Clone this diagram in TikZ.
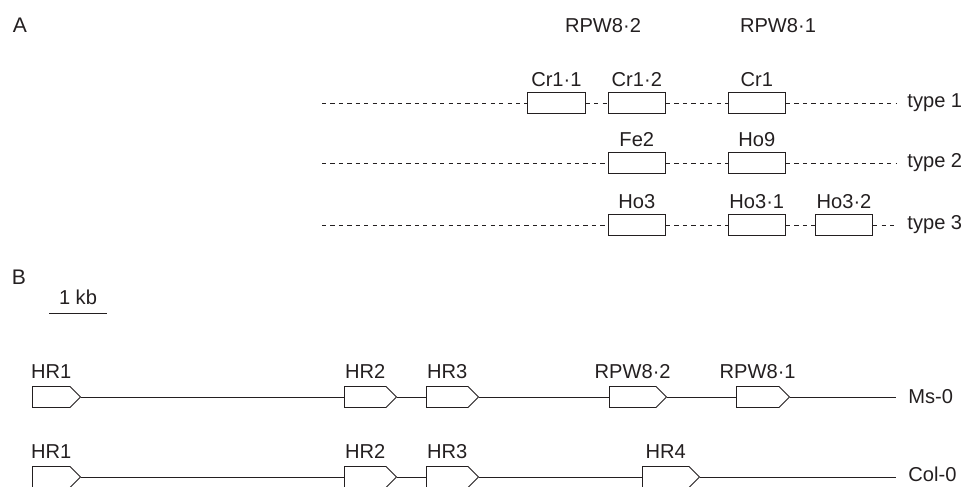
\documentclass[tikz,border=0pt]{standalone}
\usepackage{fontspec}
\setmainfont{Liberation Sans}
\usetikzlibrary{shapes.symbols}
\definecolor{ink}{RGB}{35,31,32}
\tikzset{
    gene/.style={draw, fill=white, minimum width=1.44cm, minimum height=0.515cm, inner sep=0pt,
        label={[label distance=0pt]above:#1}},
    orf/.style={draw, fill=white, shape=signal, signal to=east, minimum height=0.525cm,
        inner sep=0pt, anchor=west, label={[label distance=1.5pt]above:#1}},
    tag/.style={anchor=west, inner sep=0pt},
}
\begin{document}
\begin{tikzpicture}[line width=0.6pt, color=ink, font=\fontsize{14.3}{16}\selectfont]
        \useasboundingbox (0,0) rectangle (24.075,12.15);
        \node (pa) at (0.5,11.525) {\fontsize{15}{17}\selectfont A};
        \node (ra) at (15.075,11.5) {RPW8·2};
        \node (rb) at (19.45,11.5) {RPW8·1};
        % type 1
        \coordinate (t1s) at (8.05,9.575);
        \coordinate (t1e) at (22.425,9.575);
        \node[gene=Cr1·1] (cra) at (13.91,9.575) {};
        \node[gene=Cr1·2] (crb) at (15.92,9.575) {};
        \node[gene=Cr1] (crc) at (18.92,9.575) {};
        \draw[dashed] (t1s) -- (cra) (cra) -- (crb) (crb) -- (crc) (crc) -- (t1e);
        \node[tag] (ta) at (22.675,9.575) {type 1};
        % type 2
        \coordinate (t2s) at (8.05,8.075);
        \coordinate (t2e) at (22.425,8.075);
        \node[gene=Fe2] (fe) at (15.92,8.075) {};
        \node[gene=Ho9] (hn) at (18.92,8.075) {};
        \draw[dashed] (t2s) -- (fe) (fe) -- (hn) (hn) -- (t2e);
        \node[tag] (tb) at (22.675,8.075) {type 2};
        % type 3
        \coordinate (t3s) at (8.05,6.525);
        \coordinate (t3e) at (22.425,6.525);
        \node[gene=Ho3] (hoa) at (15.92,6.525) {};
        \node[gene=Ho3·1] (hob) at (18.92,6.525) {};
        \node[gene=Ho3·2] (hoc) at (21.10,6.525) {};
        \draw[dashed] (t3s) -- (hoa) (hoa) -- (hob) (hob) -- (hoc) (hoc) -- (t3e);
        \node[tag] (tc) at (22.675,6.525) {type 3};

        \node (pb) at (0.475,5.225) {\fontsize{15}{17}\selectfont B};
        % 标尺
        \coordinate (kba) at (1.225,4.325);
        \coordinate (kbb) at (2.675,4.325);
        \draw (kba) -- node[above=2.5pt] (kb) {1 kb} (kbb);
        % Ms-0
        \node[orf=HR1, minimum width=1.2cm] (ma) at (0.8,2.225) {};
        \node[orf=HR2, minimum width=1.3cm] (mb) at (8.6,2.225) {};
        \node[orf=HR3, minimum width=1.3cm] (mc) at (10.65,2.225) {};
        \node[orf=RPW8·2, minimum width=1.425cm] (md) at (15.225,2.225) {};
        \node[orf=RPW8·1, minimum width=1.325cm] (me) at (18.4,2.225) {};
        \coordinate (mend) at (22.4,2.225);
        \draw (ma.east) -- (mb.west) (mb.east) -- (mc.west) (mc.east) -- (md.west)
            (md.east) -- (me.west) (me.east) -- (mend);
        \node[tag] (ms) at (22.7,2.225) {Ms-0};
        % Col-0
        \node[orf=HR1, minimum width=1.2cm] (ca) at (0.8,0.225) {};
        \node[orf=HR2, minimum width=1.3cm] (cb) at (8.6,0.225) {};
        \node[orf=HR3, minimum width=1.3cm] (cc) at (10.65,0.225) {};
        \node[orf=HR4, minimum width=1.425cm] (cd) at (16.05,0.225) {};
        \coordinate (cend) at (22.4,0.225);
        \draw (ca.east) -- (cb.west) (cb.east) -- (cc.west) (cc.east) -- (cd.west)
            (cd.east) -- (cend);
        \node[tag] (col) at (22.7,0.28) {Col-0};
    \end{tikzpicture}
\end{document}
